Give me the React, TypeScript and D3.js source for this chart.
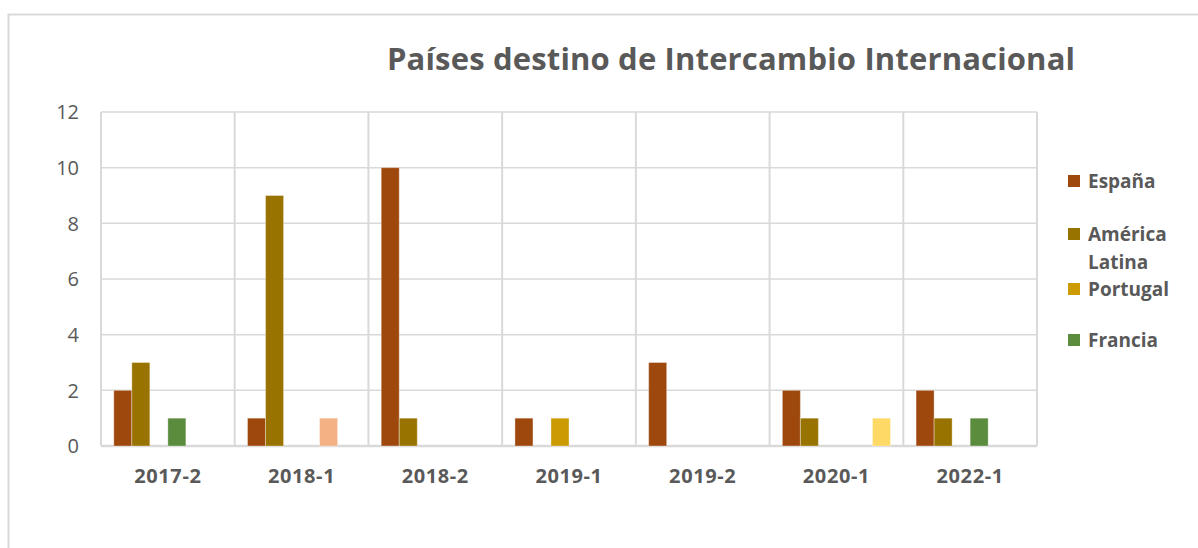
import * as d3 from "d3";

const categories = ["2017-2", "2018-1", "2018-2", "2019-1", "2019-2", "2020-1", "2022-1"];
const espana = [2, 1, 10, 1, 3, 2, 2];
const americaLatina = [3, 9, 1, 0, 0, 1, 1];
const portugal = [0, 0, 0, 1, 0, 0, 0];
const francia = [1, 0, 0, 0, 0, 0, 1];
const serie5 = [0, 1, 0, 0, 0, 0, 0];
const serie6 = [0, 0, 0, 0, 0, 1, 0];
const yTicks = [0, 2, 4, 6, 8, 10, 12];

const series = [
  { name: "España", values: espana, color: "#9E480E", legend: ["España"] },
  { name: "América Latina", values: americaLatina, color: "#997300", legend: ["América", "Latina"] },
  { name: "Portugal", values: portugal, color: "#CC9A02", legend: ["Portugal"] },
  { name: "Francia", values: francia, color: "#5B8B3D", legend: ["Francia"] },
  { name: "Serie 5", values: serie5, color: "#F4B183", legend: null },
  { name: "Serie 6", values: serie6, color: "#FFD966", legend: null },
];

// legend text baselines
const legendY = [188, 241, 269, 296, 347];

const W = 1198;
const H = 548;
const plot = { left: 101, right: 1037, top: 112, bottom: 446 };
const font = "'Open Sans', 'Noto Sans', sans-serif";
const textColor = "#595959";
const gridColor = "#D9D9D9";

export default function App() {
  const x = d3
    .scaleBand()
    .domain(categories)
    .range([plot.left, plot.right])
    .paddingInner(0)
    .paddingOuter(0);

  const xs = d3
    .scaleBand()
    .domain(series.map((s) => s.name))
    .range([0, x.bandwidth()])
    .paddingInner(0)
    .paddingOuter(0.71);

  const y = d3.scaleLinear().domain([0, 12]).range([plot.bottom, plot.top]);

  const legendRows: { text: string; color: string | null }[] = [];
  series.forEach((s) => {
    if (!s.legend) return;
    s.legend.forEach((line, i) => legendRows.push({ text: line, color: i === 0 ? s.color : null }));
  });

  return (
    <svg
      width={W}
      height={H}
      style={{ position: "absolute", left: 0, top: 0, background: "#fff" }}
      fontFamily={font}
    >
      <rect x={8.5} y={14.5} width={W + 10} height={H + 10} fill="#fff" stroke={gridColor} strokeWidth={2} />

      <text
        x={387}
        y={70}
        fontSize={31}
        fontWeight="bold"
        fill={textColor}
        textLength={688}
        lengthAdjust="spacing"
      >
        Países destino de Intercambio Internacional
      </text>

      {/* horizontal gridlines */}
      {yTicks.map((t) => (
        <line
          key={"h" + t}
          x1={plot.left}
          x2={plot.right}
          y1={y(t)}
          y2={y(t)}
          stroke={gridColor}
          strokeWidth={t === 0 ? 2.5 : 1.5}
        />
      ))}
      {/* vertical gridlines at category boundaries */}
      {categories.map((c) => (
        <line
          key={"v" + c}
          x1={x(c)!}
          x2={x(c)!}
          y1={plot.top}
          y2={plot.bottom}
          stroke={gridColor}
          strokeWidth={2}
        />
      ))}
      <line x1={plot.right} x2={plot.right} y1={plot.top} y2={plot.bottom} stroke={gridColor} strokeWidth={2} />

      {/* y tick labels */}
      {yTicks.map((t) => (
        <text
          key={"yt" + t}
          x={79}
          y={y(t)}
          dy="0.36em"
          textAnchor="end"
          fontSize={20}
          fill={textColor}
        >
          {t}
        </text>
      ))}

      {/* bars */}
      {series.map((s) =>
        categories.map((c, i) =>
          s.values[i] > 0 ? (
            <rect
              key={s.name + c}
              x={x(c)! + xs(s.name)!}
              y={y(s.values[i])}
              width={xs.bandwidth()}
              height={y(0) - y(s.values[i])}
              fill={s.color}
              stroke="#ffffff"
              strokeOpacity={0.35}
              strokeWidth={1}
            />
          ) : null,
        ),
      )}

      {/* x labels */}
      {categories.map((c) => (
        <text
          key={"xl" + c}
          x={x(c)! + x.bandwidth() / 2}
          y={483}
          textAnchor="middle"
          fontSize={20}
          fontWeight="bold"
          letterSpacing={0.6}
          fill={textColor}
        >
          {c}
        </text>
      ))}

      {/* legend */}
      {legendRows.map((r, i) => (
        <g key={"lg" + r.text}>
          {r.color && (
            <rect x={1068} y={legendY[i] - 13} width={12} height={12} fill={r.color} />
          )}
          <text x={1088} y={legendY[i]} fontSize={19} fontWeight="bold" fill={textColor}>
            {r.text}
          </text>
        </g>
      ))}
    </svg>
  );
}
